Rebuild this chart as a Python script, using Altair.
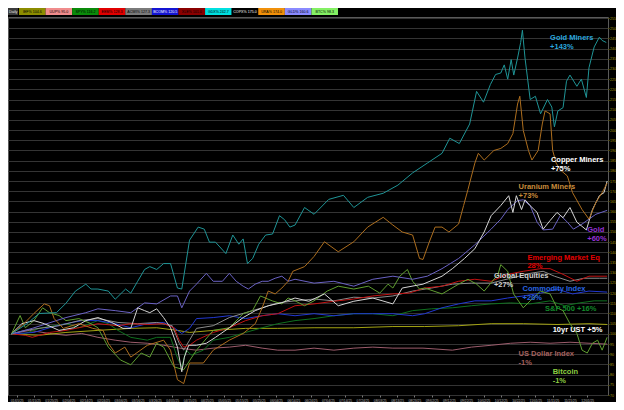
import altair as alt
import pandas as pd

ORIGIN = pd.Timestamp("2024-12-31")

# ---- x tick labels (dates) and y tick values ----
X_TICKS = ["2025-01-05", "2025-01-15", "2025-01-25", "2025-02-04", "2025-02-14", "2025-02-24",
           "2025-03-06", "2025-03-16", "2025-03-26", "2025-04-05", "2025-04-15", "2025-04-25",
           "2025-05-05", "2025-05-15", "2025-05-25", "2025-06-04", "2025-06-14", "2025-06-24",
           "2025-07-04", "2025-07-14", "2025-07-24", "2025-08-03", "2025-08-13", "2025-08-23",
           "2025-09-02", "2025-09-12", "2025-09-22", "2025-10-02", "2025-10-12", "2025-10-22",
           "2025-11-01", "2025-11-11", "2025-11-21", "2025-12-01"]
Y_TICKS = list(range(70, 256, 5))

# ---- series: day offsets from 2024-12-31 and index values (start = 100) ----
gdx_days = [2, 11, 18, 28, 33.5, 39, 45, 48, 52, 58, 62, 68, 71, 75, 79, 82, 86, 90, 94, 98,
            100.5, 105, 110, 113.5, 116.5, 120, 126, 130, 133.5, 136, 138.5, 141.5, 145, 149, 153, 157, 160, 163, 166, 171.5,
            177, 185.5, 194, 200, 208, 217, 225.5, 234, 242.5, 251, 255.5, 261, 267, 271, 275, 279, 282, 285, 287, 289,
            291, 292.5, 294.7, 296.5, 297.5, 299, 302, 305, 308, 312, 314.5, 316, 318, 321, 323, 325, 329, 331.6, 334.5, 336,
            339, 342, 343.6, 346]
gdx_vals = [100, 105, 110, 110.4, 115, 121, 124.4, 122, 122, 121, 117, 122, 120, 125.8, 131.6, 133, 131.6, 134.5, 134.5, 122.5,
            122, 146, 152.4, 151.4, 145, 145, 139.4, 148.5, 144, 146.6, 134.5, 137, 144, 148.5, 149, 158, 156, 152.4, 153.4, 162,
            158.7, 166, 168, 162, 167, 169, 173, 179, 183.8, 188.6, 196, 193.4, 203, 219, 213.7, 222.4, 227.3, 228, 232, 225,
            234.6, 227, 235.4, 243, 249, 235.4, 215, 216.6, 208, 215, 211.3, 201.6, 209.4, 211, 224, 227, 221.5, 225, 216, 230.6,
            240.8, 245.6, 244, 243]

cop_days = [2, 8, 15, 21, 29.5, 38, 45, 52, 60, 66.5, 71, 75, 79, 82, 86, 90, 94, 98, 100.5, 102,
            104.5, 109, 114.7, 120, 128, 136, 143, 150.5, 158, 166, 174, 183, 191, 200, 211, 222.6, 228, 240, 251, 257,
            264, 270, 275.4, 279.4, 285, 289.6, 292, 294, 297, 299, 302, 306, 309.5, 313.5, 317.5, 321, 325, 329, 334.5, 338,
            342, 344.7, 346.5]
cop_vals = [100, 105, 106.5, 105, 101.7, 103, 106.5, 108, 105.6, 102.7, 102.7, 112.8, 111.4, 110.4, 112.3, 108, 103, 93.5, 81.4, 88.6,
            94.4, 94.4, 95.4, 98.3, 103, 108, 111.4, 113.8, 115.2, 117.6, 116, 119.6, 113.8, 116, 117.6, 114.7, 122.5, 124.4, 128.3, 132,
            137, 141.8, 150, 158, 163, 167.8, 159.6, 167.8, 161, 165.8, 162.9, 159.6, 151.4, 155.6, 159.6, 157, 162, 154.8, 151, 161,
            167.8, 169.3, 175]

ura_days = [2, 8, 15, 21, 24, 26.7, 32, 41, 49, 55, 58, 62, 67.6, 71, 80.6, 90, 94, 98, 101.6, 105,
            113, 118.7, 128, 136, 143, 147, 150.5, 154.5, 158.4, 162, 164.7, 171.5, 177, 183, 191, 200, 208, 217, 222.6, 228,
            234, 238, 240, 243.6, 247, 251, 255, 260.6, 263.5, 266, 270, 272, 275.4, 281, 285, 289, 292, 294.7, 296, 298,
            301, 303, 306.6, 309, 310.6, 313.5, 315, 317, 319.5, 323.5, 326.5, 332, 336, 340, 343.6, 346.5]
ura_vals = [100, 104, 110, 114.7, 113.8, 107.5, 102.7, 105, 102.7, 101.7, 95.4, 90.6, 93.5, 88.6, 94.4, 96.9, 92, 77.5, 75.6, 85.7,
            85.7, 92, 96.9, 100.2, 105, 112.8, 121, 119.6, 122.5, 125.8, 130.7, 133, 138, 145.2, 140.3, 145.2, 152.4, 157.2, 153.4, 150,
            148.5, 137, 136.5, 145, 152.4, 152.4, 150, 153.9, 163, 170.8, 183.8, 188.6, 185.3, 190, 191, 193.4, 198.3, 212.8, 216.6, 199.8,
            190, 185.3, 190, 203, 209.4, 208, 190, 183.8, 180.4, 177.5, 169.3, 161, 156.3, 164.5, 169.3, 174]

gld_days = [2, 14, 33.5, 45, 52, 62, 71, 79, 86, 94, 98, 100.5, 105, 109, 114.7, 118.7, 124, 128, 132, 136,
            139, 143, 147, 150.5, 154.5, 158.4, 162, 166, 177, 188.5, 200, 211, 222.6, 234, 242.5, 251, 260.6, 270, 279.4, 285,
            289, 294.7, 298, 302, 306, 309.5, 315, 319.5, 323.5, 327, 332, 336, 340, 346.5]
gld_vals = [100, 102.7, 108, 110.4, 112.3, 111.4, 110.4, 115.2, 114.7, 118.6, 118.6, 112.8, 121, 124.4, 129.7, 125.8, 125.8, 129.7, 125.8, 123.4,
            122, 124.4, 125.8, 125.8, 127.3, 128.3, 125.8, 126.8, 124.9, 125.8, 123.4, 126.8, 128.3, 126.8, 128.3, 132, 137, 143.7, 151.4, 156.3,
            161, 165.4, 165.8, 162.9, 154.8, 151, 151.4, 158.2, 154.8, 151.4, 153.9, 156.3, 158.7, 160.6]

eem_days = [2, 10, 14, 24, 33.5, 46.6, 52, 63.6, 71, 80.6, 90, 96, 99, 101.6, 105, 109, 118.7, 128, 137.4, 147,
            156, 166, 177, 188.5, 200, 211, 222.6, 232, 241, 251, 260.6, 270, 279.4, 289, 298, 308, 313.5, 321, 329, 336, 346.5]
eem_vals = [100, 99.3, 98.3, 100.7, 101.7, 104, 105, 104, 105, 104.6, 105, 103, 96.9, 93.5, 94.4, 96.9, 100.7, 103, 106.5, 108.9,
            109.9, 113.8, 114.7, 116, 117.1, 118.6, 119.6, 120, 122.5, 123.4, 125.8, 126.8, 125.8, 129.2, 130.7, 132, 132, 129.2, 125.8, 128.3, 128.3]

acwi_days = [2, 10, 18, 29.5, 41, 52, 63.6, 75, 86, 95, 99, 101.6, 105, 109, 118.7, 128, 137.4, 147, 156, 166,
             177, 188.5, 200, 211, 222.6, 234, 245, 257, 268, 279.4, 290.7, 302, 309.5, 316, 325, 333, 342, 346.5]
acwi_vals = [100, 101.7, 102.7, 104, 106.5, 107.5, 105.6, 105, 105.6, 104, 95.4, 92, 96.9, 102.7, 104, 108, 110.4, 112.8, 115.2, 116.2,
             117.1, 116.2, 118, 117.6, 118.6, 121, 122.5, 124.4, 124.9, 124.9, 127.3, 129.7, 130.7, 128.3, 125.8, 127.3, 127.3, 127.3]

bcom_days = [2, 15, 24, 33.5, 42.6, 52, 62, 71, 80.6, 90, 96, 100.5, 105, 109, 118.7, 128, 137.4, 147, 156, 166,
             177, 188.5, 200, 211, 222.6, 234, 241, 251, 260.6, 270, 279.4, 289, 298, 308, 317.5, 326.5, 336, 346.5]
bcom_vals = [100, 100.7, 103, 105, 106.5, 106.5, 105, 103, 105, 105.6, 103, 100.2, 102.7, 107.5, 108, 108.9, 107.5, 108.9, 109.9, 108.9,
             109.9, 108.9, 109.9, 109.9, 109.9, 108.9, 109.9, 112.8, 114.7, 116.2, 116.2, 117.6, 118.6, 120, 122, 119.6, 121, 120.5]

spx_days = [2, 10, 18, 26.7, 33.5, 41, 52, 58, 63.6, 71, 80.6, 86, 94, 98, 100.5, 103, 106, 113, 118.7, 128,
            137.4, 147, 156, 166, 177, 188.5, 200, 211, 222.6, 234, 245, 257, 268, 279.4, 290.7, 302, 313.5, 322, 330.5, 339, 346.5]
spx_vals = [100, 100.2, 102.7, 104, 105, 103, 106.5, 105, 101.7, 98.3, 96.9, 98.3, 98.3, 88.2, 83.8, 92, 89.6, 92, 96.9, 98.3,
            100.7, 103, 105, 106.5, 107.5, 108.9, 109.9, 109.9, 108.9, 111.4, 112.3, 112.8, 113.8, 114.7, 115.2, 114.7, 116.2, 113.8, 115.2, 116.2, 116.2]

btc_days = [2, 7, 10, 15, 20, 24, 29.5, 33.5, 41, 48, 52, 58, 65, 71, 77, 82, 86, 90, 96, 101.6,
            109, 118.7, 128, 136, 141.4, 146, 152.8, 158.4, 162, 166, 171.5, 177, 184.6, 191, 200, 208.4, 215, 219.8, 222.6, 226.6,
            231, 234, 238, 241, 251, 260.6, 266, 271, 275.4, 283.4, 285, 289, 292.4, 298, 302, 308, 313.5, 317.5, 321, 325,
            329, 332, 335, 338, 341, 343.6, 346.5]
btc_vals = [100, 109, 103, 106.5, 112.8, 110.4, 109, 106.5, 107.5, 105, 103, 93.5, 87.2, 84.8, 90.6, 88.6, 95.4, 93.5, 83.8, 82.4,
            92, 101.7, 103, 109.9, 111.4, 118.6, 116.2, 114.7, 117.6, 116.2, 113.8, 116.2, 121, 123.4, 122, 123.4, 120, 124.4, 122.5, 128.3,
            131.6, 125.8, 122, 122.5, 119.6, 124.4, 126.8, 124.4, 121, 129.2, 134, 130.7, 119.6, 112.8, 116.2, 121, 119.6, 112.8, 111.4, 105,
            100.2, 92, 90.6, 95.4, 96.9, 92, 98.3]

dxy_days = [2, 12.5, 24, 33.5, 42.6, 52, 62, 71, 80.6, 90, 99.4, 109, 118.7, 128, 137.4, 147, 156, 166, 177, 188.5,
            200, 211, 222.6, 240, 257, 268, 279.4, 290.7, 302, 313.5, 325, 336, 346.5]
dxy_vals = [100, 101.7, 100.2, 99.3, 100.2, 98.3, 96.9, 95.9, 95.4, 94.4, 93, 92, 93, 93.5, 94.4, 93, 92, 92, 93, 92,
            93, 93.5, 93, 93, 92, 93.5, 94.4, 95.4, 95.9, 95.4, 95.9, 95.4, 95]

ust_days = [2, 18, 33.5, 52, 71, 86, 98, 105, 118.7, 137.4, 156, 177, 200, 222.6, 241, 260.6, 279.4, 298, 317.5, 336, 346.5]
ust_vals = [100, 99.3, 100.7, 101.7, 102.7, 103, 101.7, 100.7, 101.7, 102.7, 102.7, 103, 103, 103.6, 103.6, 104, 105, 105, 104.6, 105, 104.6]

# ---- end-of-line annotations ----
ann_text = ["Gold Miners", "+143%", "Copper Miners", "+75%", "Uranium Miners", "+73%", "Gold", "+60%",
            "Emerging Market Eq", "28%", "Global Equities", "+27%", "Commodity Index", "+20%",
            "S&P 500 +16%", "10yr UST +5%", "US Dollar Index", "-1%", "Bitcoin", "-1%"]
ann_day = [313.5, 313.5, 314, 314, 295.3, 295.3, 335, 335, 300.4, 300.4, 281, 281, 297.6, 297.6,
           310.6, 315, 295.3, 295.3, 315, 315]
ann_val = [245.2, 240.8, 185.3, 180.9, 172.2, 167.9, 151, 146.6, 137.4, 133.1, 128.3, 123.9, 122, 117.6,
           112.3, 101.7, 90.1, 85.8, 81.4, 77.1]
ann_color = ["#2aa6de", "#2aa6de", "#ffffff", "#ffffff", "#c98c3c", "#c98c3c", "#9532d6", "#9532d6",
             "#e40000", "#e40000", "#d2d2d2", "#d2d2d2", "#2a66e2", "#2a66e2",
             "#12882a", "#ffffff", "#a4605e", "#a4605e", "#8ccf42", "#8ccf42"]

# ---- top legend strip ----
legend_names = ["IEF", "UUP", "SPY", "EEM", "ACWI", "BCOM", "XLE", "GDX", "COPX", "URA", "GLD", "BTC"]
legend_texts = ["IEF% 104.6", "UUP% 95.0", "SPY% 116.2", "EEM% 128.3", "ACWI% 127.3", "BCOM% 120.5",
                "XLE% 101.0", "GDX% 242.7", "COPX% 175.0", "URA% 174.0", "GLD% 160.6", "BTC% 98.3"]
legend_fill = ["#8c8c00", "#f08c8c", "#0a8a0a", "#e00000", "#7a7a7a", "#1414d2",
               "#8a0000", "#00e0e0", "#000000", "#f0900a", "#8a8aff", "#84f064"]
legend_textcol = ["#000000", "#000000", "#000000", "#000000", "#000000", "#ffffff",
                  "#000000", "#000000", "#ffffff", "#000000", "#000000", "#000000"]

series = [
    ("US Dollar Index", dxy_days, dxy_vals, "#9c5c6c"),
    ("10yr UST", ust_days, ust_vals, "#a3a312"),
    ("S&P 500", spx_days, spx_vals, "#0f701f"),
    ("Commodity Index", bcom_days, bcom_vals, "#2238d2"),
    ("Global Equities", acwi_days, acwi_vals, "#8c8c8c"),
    ("Emerging Market Eq", eem_days, eem_vals, "#c21212"),
    ("Bitcoin", btc_days, btc_vals, "#5f9e30"),
    ("Gold", gld_days, gld_vals, "#6a62c4"),
    ("Copper Miners", cop_days, cop_vals, "#d6d6d6"),
    ("Uranium Miners", ura_days, ura_vals, "#ad6e1e"),
    ("Gold Miners", gdx_days, gdx_vals, "#1f9496"),
]


def to_date(d):
    return (ORIGIN + pd.Timedelta(days=d)).strftime("%Y-%m-%dT%H:%M:%S")


rows = []
for k, (name, days, vals, col) in enumerate(series):
    assert len(days) == len(vals), name
    for d, v in zip(days, vals):
        rows.append({"series": name, "k": k, "date": to_date(d), "value": v, "color": col})
lines_df = pd.DataFrame(rows)

ann_df = pd.DataFrame({"text": ann_text, "date": [to_date(d) for d in ann_day],
                       "value": ann_val, "color": ann_color})
leg_df = pd.DataFrame({"item": legend_names, "text": legend_texts,
                       "fill": legend_fill, "tcol": legend_textcol})


def dt(s):
    y, m, d = (int(p) for p in s.split("-"))
    return alt.DateTime(year=y, month=m, date=d)


x_scale = alt.Scale(domain=[dt("2024-12-31"), dt("2025-12-13")])
y_scale = alt.Scale(domain=[70, 255.5], nice=False, zero=False)

x_axis = alt.Axis(values=[dt(s) for s in X_TICKS], format="%m/%d/%y", grid=False, domain=False,
                  tickSize=2, tickColor="#777777", labelColor="#bdbdbd", labelFontSize=3.3,
                  labelPadding=1, title=None, labelOverlap=False, labelFlush=False)
y_axis = alt.Axis(orient="right", values=Y_TICKS, grid=True, gridColor="#343434", gridWidth=1,
                  domain=False, tickSize=1, tickColor="#6b6400", labelColor="#a89a10",
                  labelFontSize=3.5, labelPadding=0.5, title=None, labelOverlap=False, labelFlush=False,
                  format="d")

lines = alt.Chart(lines_df).mark_line(strokeWidth=1).encode(
    x=alt.X("date:T", scale=x_scale, axis=x_axis),
    y=alt.Y("value:Q", scale=y_scale, axis=y_axis),
    color=alt.Color("color:N", scale=None),
    detail="series:N",
)

ann = alt.Chart(ann_df).mark_text(align="left", baseline="middle", font="Liberation Sans",
                                  fontWeight="bold", fontSize=7.5).encode(
    x=alt.X("date:T", scale=x_scale, axis=x_axis),
    y=alt.Y("value:Q", scale=y_scale, axis=y_axis),
    text="text:N",
    color=alt.Color("color:N", scale=None),
)

main = alt.layer(lines, ann)

leg_x = alt.X("item:N", scale=alt.Scale(domain=legend_names, range=[11, 330], paddingInner=0,
                                        paddingOuter=0), axis=None, sort=legend_names)
leg_rect = alt.Chart(leg_df).mark_rect().encode(
    x=leg_x, y=alt.value(-9), y2=alt.value(-2),
    color=alt.Color("fill:N", scale=None),
)
leg_text = alt.Chart(leg_df).mark_text(align="center", baseline="middle", font="Liberation Sans",
                                       fontSize=3.6).encode(
    x=leg_x, y=alt.value(-5.5), text="text:N",
    color=alt.Color("tcol:N", scale=None),
)
daily_box = alt.Chart(pd.DataFrame({"t": ["Daily"]})).mark_rect(color="#3c3c3c").encode(
    x=alt.value(0), x2=alt.value(10), y=alt.value(-9), y2=alt.value(-2))
daily_text = alt.Chart(pd.DataFrame({"t": ["Daily"]})).mark_text(
    align="left", baseline="middle", font="Liberation Sans", fontSize=3.8, color="#e0e0e0").encode(
    x=alt.value(1), y=alt.value(-5.5), text="t:N")

legend = alt.layer(leg_rect, leg_text, daily_box, daily_text)

chart = alt.layer(main, legend).resolve_scale(x="independent", color="independent").properties(
    width=600, height=378,
    background="#000000",
    padding={"left": 0, "top": 9, "right": 8, "bottom": 7},
    autosize=alt.AutoSizeParams(type="none"),
).configure_view(stroke="#5a5a5a", strokeWidth=1, fill="#000000")

chart.save("out.html", embed_options={"renderer": "svg", "actions": False})
